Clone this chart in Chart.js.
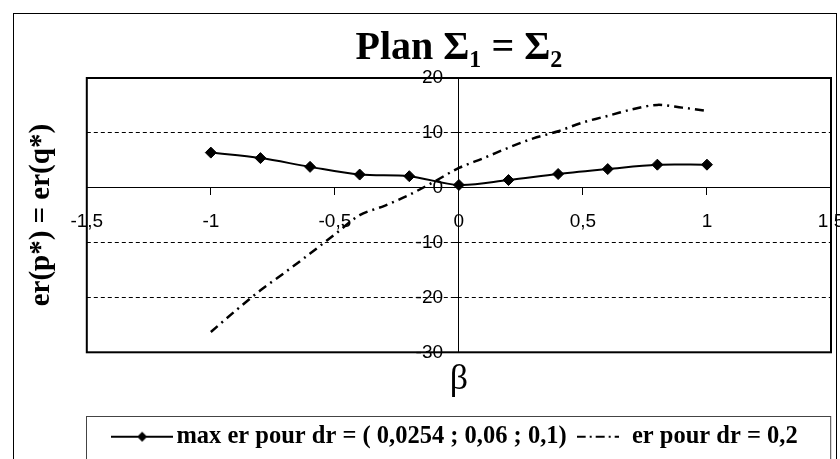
<!DOCTYPE html>
<html>
<head>
<meta charset="utf-8">
<script src="https://cdn.jsdelivr.net/npm/chart.js@4.4.0/dist/chart.umd.min.js"></script>
<style>
  html, body { margin: 0; padding: 0; background: #fff; }
  #wrap { width: 840px; height: 459px; }
</style>
</head>
<body>
<div id="wrap"><canvas id="chart"></canvas></div>
<script>
// donnees
const betaMax = [-1, -0.8, -0.6, -0.4, -0.2, 0, 0.2, 0.4, 0.6, 0.8, 1];
const maxEr = [6.4, 5.4, 3.8, 2.4, 2.1, 0.5, 1.4, 2.5, 3.4, 4.2, 4.2];

const betaDr = [-1, -0.9, -0.8, -0.7, -0.6, -0.5, -0.4, -0.3, -0.2, -0.1, 0, 0.1, 0.2, 0.3, 0.4, 0.5, 0.6, 0.7, 0.8, 0.9, 1];
const erDr = [-26.3, -22.4, -18.7, -15.4, -12.0, -8.5, -5.0, -3.3, -1.3, 1.1, 3.6, 5.4, 7.3, 9.0, 10.3, 11.9, 13.1, 14.3, 15.1, 14.6, 14.0];

const xTicks = [-1.5, -1, -0.5, 0, 0.5, 1, 1.5];
const xTickLabels = ['-1,5', '-1', '-0,5', '0', '0,5', '1', '1,5'];
const yTicks = [-30, -20, -10, 0, 10, 20];
const yTickLabels = ['-30', '-20', '-10', '0', '10', '20'];
const yGridDashed = [10, -10, -20];

const seriesNames = ['max er pour dr = ( 0,0254 ; 0,06 ; 0,1)', 'er pour dr = 0,2'];

// petits dessins pour la legende (trait + losange, trait mixte)
function legendSample(w, dash, diamond) {
    const c = document.createElement('canvas');
    c.width = w; c.height = 14;
    const g = c.getContext('2d');
    g.strokeStyle = '#000';
    g.lineWidth = 2;
    g.setLineDash(dash);
    g.beginPath(); g.moveTo(0, 7); g.lineTo(w, 7); g.stroke();
    if (diamond) {
        g.fillStyle = '#000';
        g.beginPath();
        g.moveTo(w / 2 - 5, 7); g.lineTo(w / 2, 2); g.lineTo(w / 2 + 5, 7); g.lineTo(w / 2, 12);
        g.closePath(); g.fill();
    }
    return c;
}
const legendSamples = [legendSample(62, [], true), legendSample(42, [9, 4, 2, 4], false)];

const frames = {
    id: 'frames',
    afterDraw(chart) {
        const {ctx, chartArea: a, legend} = chart;
        ctx.save();
        ctx.strokeStyle = '#000';
        ctx.lineWidth = 2;
        ctx.strokeRect(a.left, a.top, a.right - a.left, a.bottom - a.top);
        ctx.lineWidth = 1;
        ctx.strokeRect(13.5, 13.5, 823, 480);
        ctx.strokeStyle = '#444';
        ctx.strokeRect(Math.round(a.left) - 0.5, Math.round(legend.top) + 0.5, a.right - a.left, 80);
        ctx.restore();
    }
};

const tickFont = {family: 'Liberation Sans', size: 19};

new Chart(document.getElementById('chart'), {
    type: 'line',
    data: {
        datasets: [{
            label: seriesNames[0],
            data: betaMax.map((b, i) => ({x: b, y: maxEr[i]})),
            xAxisID: 'x', yAxisID: 'y',
            borderColor: '#000',
            borderWidth: 2,
            tension: 0.33,
            pointStyle: 'rectRot',
            pointRadius: 5.5,
            pointBackgroundColor: '#000',
            pointBorderColor: '#000',
            pointBorderWidth: 1
        }, {
            label: seriesNames[1],
            data: betaDr.map((b, i) => ({x: b, y: erDr[i]})),
            xAxisID: 'x', yAxisID: 'y',
            borderColor: '#000',
            borderWidth: 2.5,
            borderDash: [9, 5, 2, 5],
            tension: 0.33,
            pointRadius: 0
        }]
    },
    options: {
        responsive: true,
        maintainAspectRatio: false,
        animation: false,
        layout: {padding: {left: 0, right: 9, top: 0, bottom: 0}},
        scales: {
            x: {
                type: 'linear',
                position: {y: 0},
                min: -1.5, max: 1.5,
                afterBuildTicks: s => { s.ticks = xTicks.map(v => ({value: v})); },
                afterFit: s => { s.paddingLeft = 0; s.paddingRight = 0; },
                ticks: {
                    callback: v => xTickLabels[xTicks.indexOf(v)],
                    font: tickFont, color: '#000', padding: 16,
                    maxRotation: 0, autoSkip: false
                },
                grid: {drawOnChartArea: false, tickLength: 7, tickColor: '#000', color: '#000'},
                border: {display: true, color: '#000', width: 1}
            },
            y: {
                type: 'linear',
                position: {x: 0},
                min: -30, max: 20,
                afterBuildTicks: s => { s.ticks = yTicks.map(v => ({value: v})); },
                ticks: {
                    // axe centre : les libelles collent a l'axe, on les decale avec des espaces
                    callback: v => yTickLabels[yTicks.indexOf(v)] + '   ',
                    font: tickFont, color: '#000'
                },
                grid: {
                    color: c => (c.tick && yGridDashed.includes(c.tick.value)) ? '#000' : 'rgba(0,0,0,0)',
                    tickColor: '#000', tickLength: 7, tickBorderDash: []
                },
                border: {display: true, color: '#000', width: 1, dash: [4, 3]}
            },
            yt: {
                type: 'linear', position: 'left', min: 0, max: 1,
                ticks: {display: false}, grid: {display: false, drawTicks: false}, border: {display: false},
                title: {
                    display: true, text: 'er(p*) = er(q*)', color: '#000',
                    font: {family: 'Liberation Serif', size: 29, weight: 'bold'},
                    padding: {top: 24, bottom: 28}
                }
            },
            xt: {
                type: 'linear', position: 'bottom', min: 0, max: 1,
                ticks: {display: false}, grid: {display: false, drawTicks: false}, border: {display: false},
                title: {
                    display: true, text: 'β', color: '#000',
                    font: {family: 'Liberation Serif', size: 36},
                    padding: {top: 6, bottom: 14}
                }
            }
        },
        plugins: {
            title: {
                display: true,
                text: 'Plan Σ₁ = Σ₂',
                color: '#000',
                fullSize: false,
                font: {family: 'Liberation Serif', size: 40, weight: 'bold'},
                padding: {top: 25, bottom: 5}
            },
            legend: {
                position: 'bottom',
                fullSize: false,
                labels: {
                    usePointStyle: true,
                    pointStyleWidth: 44,
                    color: '#000',
                    padding: 9,
                    font: {family: 'Liberation Serif', size: 24.5, weight: 'bold'},
                    generateLabels: chart => {
                        const items = Chart.defaults.plugins.legend.labels.generateLabels(chart);
                        items.forEach((it, i) => { it.pointStyle = legendSamples[i]; });
                        return items;
                    }
                }
            },
            tooltip: {enabled: false}
        }
    },
    plugins: [frames]
});
</script>
</body>
</html>
